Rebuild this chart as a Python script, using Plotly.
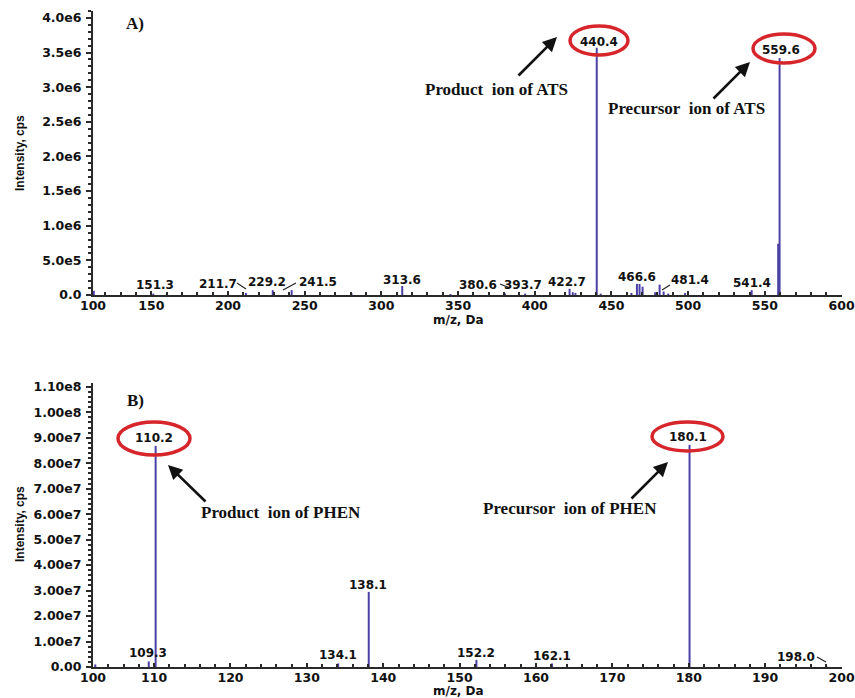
import plotly.graph_objects as go

W, H = 855, 698

# ---------------- data ----------------
# Panel A (ATS)
a_mz = [112.5, 151.3, 211.7, 229.2, 241.5, 280.5, 313.6, 345.0, 380.6, 393.7,
        422.7, 424.8, 426.5, 440.4, 443.0, 463.0, 466.6, 468.3, 470.3, 478.5,
        481.4, 484.0, 487.0, 498.0, 541.4, 558.7, 559.6]
a_int = [6e4, 2e4, 3e4, 7e4, 7e4, 3e4, 1.3e5, 1.5e4, 2e4, 2e4,
         9e4, 4e4, 3e4, 3.57e6, 2e4, 3e4, 1.6e5, 1.6e5, 1.2e5, 4e4,
         1.5e5, 5e4, 2e4, 3e4, 7e4, 7.4e5, 3.42e6]
a_labels = ["151.3", "211.7", "229.2", "241.5", "313.6", "380.6", "393.7",
            "422.7", "440.4", "466.6", "481.4", "541.4", "559.6"]
a_yticks = [0, 5e5, 1e6, 1.5e6, 2e6, 2.5e6, 3e6, 3.5e6, 4e6]
a_yticktext = ["0.0", "5.0e5", "1.0e6", "1.5e6", "2.0e6", "2.5e6", "3.0e6", "3.5e6", "4.0e6"]
a_xticks = [112, 150, 200, 250, 300, 350, 400, 450, 500, 550, 600]
a_xticktext = ["100", "150", "200", "250", "300", "350", "400", "450", "500", "550", "600"]

# Panel B (PHEN)
b_mz = [102.3, 109.3, 110.2, 134.1, 138.1, 152.2, 162.1, 180.1, 198.0]
b_int = [1.0e6, 2.2e6, 8.68e7, 1.4e6, 2.95e7, 2.8e6, 1.4e6, 8.72e7, 4e5]
b_labels = ["109.3", "110.2", "134.1", "138.1", "152.2", "162.1", "180.1", "198.0"]
b_yticks = [0, 1e7, 2e7, 3e7, 4e7, 5e7, 6e7, 7e7, 8e7, 9e7, 1e8, 1.1e8]
b_yticktext = ["0.00", "1.00e7", "2.00e7", "3.00e7", "4.00e7", "5.00e7", "6.00e7",
               "7.00e7", "8.00e7", "9.00e7", "1.00e8", "1.10e8"]
b_xticks = [102, 110, 120, 130, 140, 150, 160, 170, 180, 190, 200]
b_xticktext = ["100", "110", "120", "130", "140", "150", "160", "170", "180", "190", "200"]

# ---------------- helpers (window pixel -> paper) ----------------
def px(x):
    return x / W

def py(y):
    return 1 - y / H

def sticks(mz, inten):
    xs, ys = [], []
    for m, i in zip(mz, inten):
        xs += [m, m, None]
        ys += [0, i, None]
    return xs, ys

STICK = "#4B40A6"
AXC = "#2a2a2a"
TICKFONT = dict(family="DejaVu Sans", size=12.5, color="#111", weight="bold")
LABFONT = dict(family="DejaVu Sans", size=12, color="#111", weight="bold")
SERIF = dict(family="Liberation Serif", size=17, color="#111", weight="bold")

fig = go.Figure()
xa, ya = sticks(a_mz, a_int)
fig.add_trace(go.Scatter(x=xa, y=ya, mode="lines", line=dict(color=STICK, width=2),
                         xaxis="x", yaxis="y", hoverinfo="skip", showlegend=False))
xb, yb = sticks(b_mz, b_int)
fig.add_trace(go.Scatter(x=xb, y=yb, mode="lines", line=dict(color=STICK, width=2),
                         xaxis="x2", yaxis="y2", hoverinfo="skip", showlegend=False))

# ---------------- peak labels ----------------
a_label_pos = {  # (xshift, yshift) in px
    "151.3": (2, 10), "211.7": (-28, 11), "229.2": (-6, 13), "241.5": (26, 13),
    "313.6": (0, 15), "380.6": (-27, 10), "393.7": (-2, 10), "422.7": (-3, 13),
    "440.4": (2, 253), "466.6": (0, 18), "481.4": (30, 15), "541.4": (0, 12),
    "559.6": (1, 245),
}
annotations = []
for lab in a_labels:
    xs_, ys_ = a_label_pos[lab]
    annotations.append(dict(x=float(lab), y=0, xref="x", yref="y", text=lab,
                            showarrow=False, xanchor="center", yanchor="middle",
                            xshift=xs_, yshift=ys_, font=LABFONT))
b_label_pos = {
    "109.3": (-1, 14), "110.2": (-2, 229), "134.1": (0, 12), "138.1": (-1, 82),
    "152.2": (0, 14), "162.1": (0, 11), "180.1": (-2, 230), "198.0": (-30, 10),
}
for lab in b_labels:
    xs_, ys_ = b_label_pos[lab]
    annotations.append(dict(x=float(lab), y=0, xref="x2", yref="y2", text=lab,
                            showarrow=False, xanchor="center", yanchor="middle",
                            xshift=xs_, yshift=ys_, font=LABFONT))

# ---------------- text annotations ----------------
def txt(x, y, t, font, xanchor="center"):
    annotations.append(dict(x=px(x), y=py(y), xref="paper", yref="paper", text=t,
                            showarrow=False, xanchor=xanchor, yanchor="middle", font=font))

txt(124, 23, "A)", SERIF, "left")
txt(125, 400, "B)", SERIF, "left")
txt(496, 90, "Product&nbsp;&nbsp;ion of ATS", SERIF)
txt(686, 108, "Precursor&nbsp;&nbsp;ion of ATS", SERIF)
txt(281, 512, "Product&nbsp;&nbsp;ion of PHEN", SERIF)
txt(570, 508, "Precursor&nbsp;&nbsp;ion of PHEN", SERIF)

def arrow(tail, head):
    annotations.append(dict(x=px(head[0]), y=py(head[1]), xref="paper", yref="paper",
                            ax=tail[0] - head[0], ay=tail[1] - head[1], text="",
                            showarrow=True, arrowhead=2, arrowsize=1.1, arrowwidth=2.6,
                            arrowcolor="#111"))

arrow((517, 77), (557, 37))
arrow((712, 100), (750, 62))
arrow((207, 503), (168, 465))
arrow((630, 500), (668, 462))

# axis titles
YT = dict(family="Liberation Sans", size=12, color="#111", weight="bold")
for yc in (153, 524):
    annotations.append(dict(x=px(20), y=py(yc), xref="paper", yref="paper",
                            xanchor="center", yanchor="middle",
                            text="Intensity, cps", textangle=-90, showarrow=False, font=YT))
XT = dict(family="DejaVu Sans", size=12, color="#111", weight="bold")
for yc in (320, 691):
    annotations.append(dict(x=px(458), y=py(yc), xref="paper", yref="paper",
                            xanchor="center", yanchor="middle",
                            text="m/z, Da", showarrow=False, font=XT))

# ---------------- shapes ----------------
shapes = []
def ellipse(x0, y0, x1, y1):
    shapes.append(dict(type="circle", xref="paper", yref="paper",
                       x0=px(x0), x1=px(x1), y0=py(y1), y1=py(y0),
                       line=dict(color="#D7262B", width=3.5)))

ellipse(570, 26, 628, 55)
ellipse(753, 34, 815, 63)
ellipse(118, 422, 190, 455)
ellipse(652, 422, 723, 451)

def seg(x0, y0, x1, y1):
    shapes.append(dict(type="line", xref="paper", yref="paper",
                       x0=px(x0), y0=py(y0), x1=px(x1), y1=py(y1),
                       line=dict(color="#222", width=1.2)))

seg(237, 283, 246, 289)
seg(283, 290, 296, 283)
seg(500, 284, 510, 288)
seg(662, 290, 670, 285)
seg(817, 657, 826, 662)

# ---------------- axes ----------------
def xaxis(rng, tv, tt, anchor, minor_dtick, minor_tick0):
    return dict(domain=[px(93), px(842)], range=rng, tickvals=tv, ticktext=tt,
                automargin=False, ticklabeloverflow="allow", ticklabelstandoff=-2,
                showgrid=False, zeroline=False, showline=True, linecolor=AXC, linewidth=2,
                ticks="inside", ticklen=4, tickwidth=1.5, tickcolor=AXC,
                tickfont=TICKFONT, anchor=anchor,
                minor=dict(ticks="inside", ticklen=3, tickcolor=AXC, dtick=minor_dtick,
                           tick0=minor_tick0, showgrid=False))

def yaxis(rng, dom, tv, tt, anchor, minor_dtick):
    return dict(domain=dom, range=rng, tickvals=tv, ticktext=tt,
                automargin=False, ticklabelstandoff=2, ticklabeloverflow="allow",
                showgrid=False, zeroline=False, showline=True, linecolor=AXC, linewidth=2,
                ticks="outside", ticklen=5, tickwidth=1.5, tickcolor=AXC,
                tickfont=TICKFONT, anchor=anchor,
                minor=dict(ticks="outside", ticklen=3, tickcolor=AXC, dtick=minor_dtick,
                           tick0=0, showgrid=False))

fig.update_layout(
    template="none",
    width=W, height=H, margin=dict(l=0, r=0, t=0, b=0, pad=0),
    paper_bgcolor="white", plot_bgcolor="white", showlegend=False,
    xaxis=xaxis([112, 600.3], a_xticks, a_xticktext, "y", 10, 100),
    yaxis=yaxis([0, 4.1e6], [py(295), py(11)], a_yticks, a_yticktext, "x", 1e5),
    xaxis2=xaxis([102, 200.06], b_xticks, b_xticktext, "y2", 2, 100),
    yaxis2=yaxis([0, 1.115e8], [py(667), py(383)], b_yticks, b_yticktext, "x2", 2e6),
    annotations=annotations, shapes=shapes,
)

# remove the default 8px page margin so the 855x698 figure fills the window exactly
fig.write_html("out.html", config={"displayModeBar": False},
               post_script="document.body.style.margin='0';document.body.style.overflow='hidden';")
